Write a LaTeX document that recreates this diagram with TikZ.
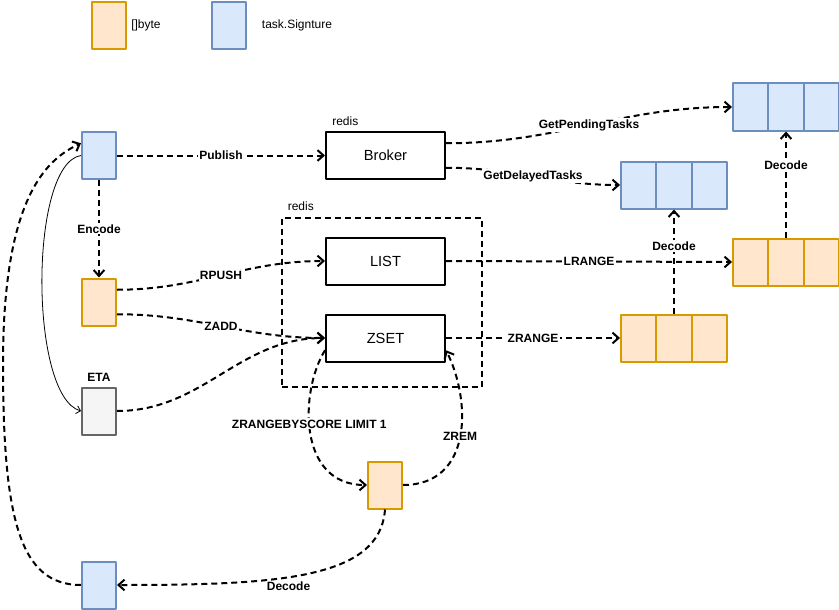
\documentclass[tikz,border=0pt]{standalone}
\usepackage{fontspec}
\setmainfont{Liberation Sans}
\usetikzlibrary{arrows.meta, calc, positioning}
\usepackage{xcolor}
\definecolor{byteFill}{HTML}{FFE6CC}
\definecolor{byteLine}{HTML}{D79B00}
\definecolor{sigFill}{HTML}{DAE8FC}
\definecolor{sigLine}{HTML}{6C8EBF}
\definecolor{etaFill}{HTML}{F5F5F5}
\definecolor{etaLine}{HTML}{666666}

\begin{document}
\begin{tikzpicture}[line join=round, x=0.75pt, y=-0.75pt,
  >={Straight Barb[length=4.5pt,width=8pt]},
  cell/.style={line width=1.5pt, inner sep=0pt, minimum width=25.5pt, minimum height=35.25pt},
  bytebox/.style={cell, draw=byteLine, fill=byteFill},
  sigbox/.style={cell, draw=sigLine, fill=sigFill},
  etabox/.style={cell, draw=etaLine, fill=etaFill},
  bytecell/.style={bytebox, minimum width=26.5pt},
  sigcell/.style={sigbox, minimum width=26.5pt},
  store/.style={draw, line width=1.5pt, minimum width=89.25pt, minimum height=35.25pt, font=\fontsize{11}{13}\selectfont},
  grp/.style={draw, line width=1.5pt, dash pattern=on 4.5pt off 3pt, minimum width=150pt, minimum height=126.75pt},
  txt/.style={inner sep=0pt, font=\fontsize{9}{11}\selectfont},
  lbl/.style={fill=white, inner sep=1pt, font=\bfseries\fontsize{9}{11}\selectfont},
  flow/.style={->, line width=1.5pt, dash pattern=on 4.5pt off 3pt},
  link/.style={-{Straight Barb[length=3pt,width=6pt]}, line width=0.6pt}]
\useasboundingbox (0,0) rectangle (839,610);

% --- legend ---
\node[bytebox] (lgbyte) at (109,25.5) {};
\node[txt, right=3pt of lgbyte] (lgbytetxt) {[]byte};
\node[sigbox] (lgsig) at (229,25.5) {};
\node[txt, right=11pt of lgsig] (lgsigtxt) {task.Signture};

% --- left column ---
\node[sigbox] (sig) at (99,155.5) {};
\node[bytebox] (bytes) at (99,302) {};
\node[etabox] (eta) at (99,411) {};
\node[lbl, fill=none, anchor=base] (etatxt) at ($(eta.north)+(0,-5.5)$) {ETA};
\node[sigbox] (sig2) at (99,585) {};
\coordinate (sigin) at ($(sig.north west)!0.25!(sig.south west)$);
\coordinate (back) at (3,364);

% --- redis ---
\node[store] (broker) at (385.5,155.5) {Broker};
\node[txt, anchor=base west] (brokertxt) at ($(broker.north west)+(7,-5)$) {redis};
\node[grp] (redis) at (381.5,302) {};
\node[txt, anchor=base west] (redistxt) at ($(redis.north west)+(7,-6)$) {redis};
\node[store] (list) at (385.5,261) {LIST};
\node[store] (zset) at (385.5,338) {ZSET};
\node[bytebox] (byte2) at (385,485) {};

% --- arrays ---
\foreach \i/\x in {1/638.7, 2/674, 3/709.3} {
  \node[sigcell] (dl\i) at (\x,185) {};
  \node[bytecell] (zr\i) at (\x,338) {};
}
\foreach \i/\x in {1/750.7, 2/786, 3/821.3} {
  \node[sigcell] (pd\i) at (\x,107) {};
  \node[bytecell] (lr\i) at (\x,262) {};
}

% --- connectors ---
\draw[flow] (sig.east) -- node[lbl] {Publish} (broker.west);
\draw[flow] (sig.south) -- node[lbl] {Encode} (bytes.north);
\draw[flow] ($(bytes.north east)!0.25!(bytes.south east)$) to[out=0,in=180] node[lbl] {RPUSH} (list.west);
\draw[flow] ($(bytes.north east)!0.75!(bytes.south east)$) to[out=0,in=180] node[lbl] {ZADD} (zset.west);
\draw[flow] (eta.east) to[out=0,in=180] (zset.west);
\draw[link] (sig.west) .. controls ($(sig.west)+(-52,8)$) and ($(eta.west)+(-52,-15)$) .. (eta.west);

\draw[flow] ($(broker.north east)!0.25!(broker.south east)$) to[out=0,in=180] node[lbl] {GetPendingTasks} (pd1.west);
\draw[flow] ($(broker.north east)!0.75!(broker.south east)$) to[out=0,in=180] node[lbl] {GetDelayedTasks} (dl1.west);
\draw[flow] (list.east) -- node[lbl] {LRANGE} (lr1.west);
\draw[flow] (zset.east) -- node[lbl] {ZRANGE} (zr1.west);
\draw[flow] (zr2.north) -- node[lbl, pos=0.65] {Decode} (dl2.south);
\draw[flow] (lr2.north) -- node[lbl, pos=0.68] {Decode} (pd2.south);

\draw[flow] ($(zset.north west)!0.75!(zset.south west)$) .. controls +(-25,40) and +(-70,0) .. node[lbl, pos=0.45] {ZRANGEBYSCORE LIMIT 1} (byte2.west);
\draw[flow] (byte2.east) .. controls +(70,0) and +(25,50) .. node[lbl] {ZREM} ($(zset.north east)!0.75!(zset.south east)$);
\draw[flow] (byte2.south) .. controls +(-5,70) and +(160,0) .. node[lbl, pos=0.57, yshift=-7pt] {Decode} (sig2.east);
\draw[flow] (sig2.west) .. controls (20,585) and (3,520) .. (back) .. controls (3,200) and (45,160) .. (sigin);
\end{tikzpicture}
\end{document}
